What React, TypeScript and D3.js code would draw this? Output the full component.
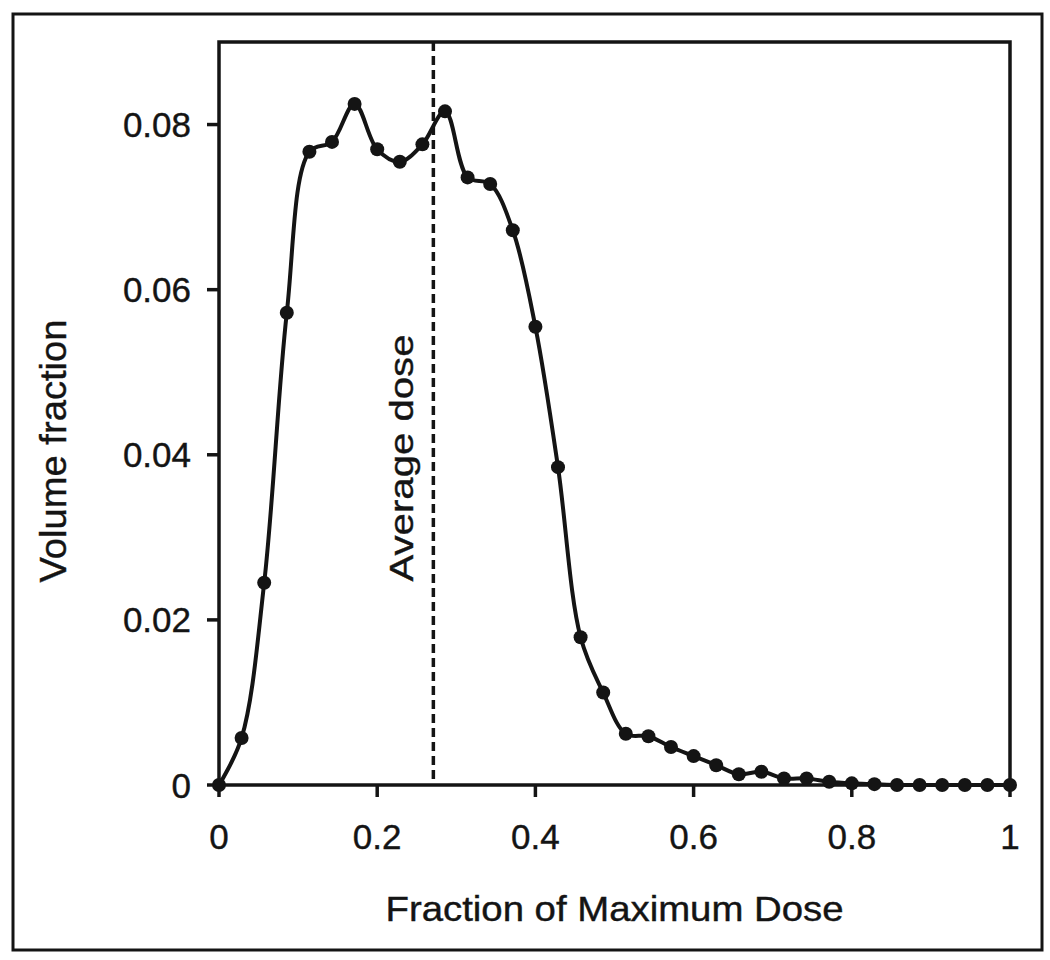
import React from "react";
import * as d3 from "d3";

const doseFraction: number[] = Array.from({ length: 36 }, (_, i) => i / 35);
const volumeFraction: number[] = [
  0, 0.0057, 0.0245, 0.0572, 0.0767, 0.0779, 0.0825, 0.077, 0.0755, 0.0776,
  0.0816, 0.0736, 0.0728, 0.0672, 0.0555, 0.0385, 0.0179, 0.0112, 0.0062, 0.0059,
  0.0046, 0.0035, 0.0024, 0.0013, 0.0016, 0.0008, 0.0008, 0.0004, 0.0002, 0.0001,
  0, 0, 0, 0, 0, 0,
];
const xTicks: number[] = [0, 0.2, 0.4, 0.6, 0.8, 1];
const xTickLabels: string[] = ["0", "0.2", "0.4", "0.6", "0.8", "1"];
const yTicks: number[] = [0, 0.02, 0.04, 0.06, 0.08];
const yTickLabels: string[] = ["0", "0.02", "0.04", "0.06", "0.08"];
const averageDose = 0.271;

const ink = "#141414";
const font = "'Liberation Sans', Arial, sans-serif";

export default function App() {
  const x = d3.scaleLinear().domain([0, 1]).range([219, 1010]);
  const y = d3.scaleLinear().domain([0, 0.09]).range([785, 42]);
  const pts = doseFraction.map((d, i) => [d, volumeFraction[i]] as [number, number]);
  const line = d3
    .line<[number, number]>()
    .x((d) => x(d[0]))
    .y((d) => y(d[1]))
    .curve(d3.curveCatmullRom.alpha(0.5));
  const [x0, x1] = x.range();
  const [y0, y1] = y.range();

  return (
    <svg
      width={1050}
      height={960}
      style={{ position: "absolute", left: 0, top: 0, background: "#fff" }}
      fontFamily={font}
    >
      <rect x={0} y={0} width={1050} height={960} fill="#fff" />
      {/* outer frame */}
      <rect x={13} y={14} width={1029} height={936} fill="none" stroke={ink} strokeWidth={3} />
      {/* average dose line */}
      <line
        x1={x(averageDose)}
        x2={x(averageDose)}
        y1={y1}
        y2={y0}
        stroke={ink}
        strokeWidth={3.5}
        strokeDasharray="9,5"
      />
      <text
        transform={`translate(${x(averageDose) - 20},${458}) rotate(-90)`}
        textAnchor="middle"
        fontSize={34}
        fill={ink}
        stroke={ink}
        strokeWidth={0.4}
        textLength={247}
        lengthAdjust="spacingAndGlyphs"
      >
        Average dose
      </text>
      {/* data line */}
      <path d={line(pts) || ""} fill="none" stroke={ink} strokeWidth={4} />
      {pts.map((p, i) => (
        <circle key={i} cx={x(p[0])} cy={y(p[1])} r={7} fill={ink} />
      ))}
      {/* plot frame */}
      <rect x={x0} y={y1} width={x1 - x0} height={y0 - y1} fill="none" stroke={ink} strokeWidth={3.5} />
      {/* x ticks */}
      {xTicks.map((t, i) => (
        <g key={"xt" + i}>
          <line x1={x(t)} x2={x(t)} y1={y0} y2={y0 + 12} stroke={ink} strokeWidth={3.5} />
          <text x={x(t)} y={849} textAnchor="middle" fontSize={35} fill={ink} stroke={ink} strokeWidth={0.4}>
            {xTickLabels[i]}
          </text>
        </g>
      ))}
      {/* y ticks */}
      {yTicks.map((t, i) => (
        <g key={"yt" + i}>
          <line x1={x0 - 12} x2={x0} y1={y(t)} y2={y(t)} stroke={ink} strokeWidth={3.5} />
          <text x={191} y={y(t)} dy="0.36em" textAnchor="end" fontSize={35} fill={ink} stroke={ink} strokeWidth={0.4}>
            {yTickLabels[i]}
          </text>
        </g>
      ))}
      {/* axis titles */}
      <text
        x={(x0 + x1) / 2}
        y={921}
        textAnchor="middle"
        fontSize={35}
        fill={ink}
        stroke={ink}
        strokeWidth={0.4}
        textLength={458}
        lengthAdjust="spacingAndGlyphs"
      >
        Fraction of Maximum Dose
      </text>
      <text
        transform={`translate(${66},${451}) rotate(-90)`}
        textAnchor="middle"
        fontSize={36}
        fill={ink}
        stroke={ink}
        strokeWidth={0.4}
        textLength={263}
        lengthAdjust="spacingAndGlyphs"
      >
        Volume fraction
      </text>
    </svg>
  );
}
